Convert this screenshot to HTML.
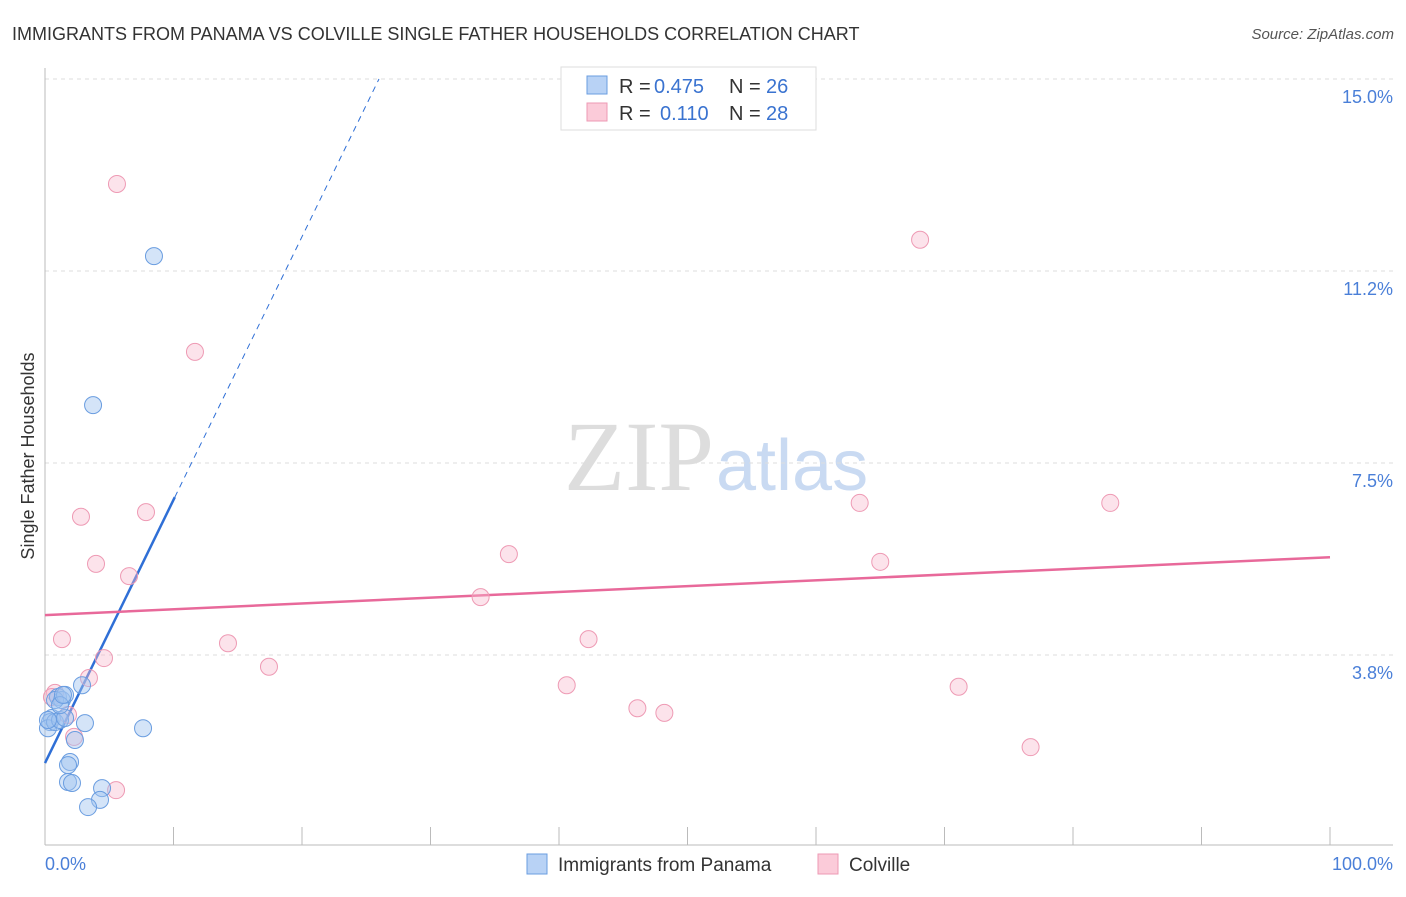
<!DOCTYPE html>
<html><head><meta charset="utf-8"><style>
body{margin:0;background:#fff;font-family:"Liberation Sans",sans-serif}
</style></head><body>
<svg width="1406" height="892" xmlns="http://www.w3.org/2000/svg" style="font-family:'Liberation Sans',sans-serif">
<text x="12" y="40" font-size="18" fill="#333">IMMIGRANTS FROM PANAMA VS COLVILLE SINGLE FATHER HOUSEHOLDS CORRELATION CHART</text>
<text x="1394" y="39" font-size="15" fill="#555" font-style="italic" text-anchor="end">Source: ZipAtlas.com</text>
<text x="714" y="490" font-size="100" fill="#ddd" text-anchor="end" font-family="Liberation Serif">ZIP</text>
<text x="716" y="490" font-size="72" fill="#c9daf2">atlas</text>
<g id="grid"></g>
<line x1="45" y1="68" x2="45" y2="845" stroke="#bbb"/>
<line x1="45" y1="845" x2="1393" y2="845" stroke="#bbb"/>
<g id="xt"></g>
<text x="45" y="870" font-size="18" fill="#4a7fd8">0.0%</text>
<text x="1393" y="870" font-size="18" fill="#4a7fd8" text-anchor="end">100.0%</text>
<text transform="translate(34,456) rotate(-90)" font-size="18" fill="#333" text-anchor="middle">Single Father Households</text>
<g id="lines"></g>
<g id="pts"></g>
<g font-size="20">
<rect x="561" y="67" width="255" height="63" fill="#fff" stroke="#ddd"/>
<rect x="587" y="76" width="20" height="18" fill="#b8d2f5" stroke="#6a9de0"/>
<text x="619" y="93" fill="#333">R =</text>
<text x="654" y="93" fill="#3a73d0">0.475</text>
<text x="729" y="93" fill="#333">N =</text>
<text x="766" y="93" fill="#3a73d0">26</text>
<rect x="587" y="103" width="20" height="18" fill="#fbcbd9" stroke="#ee9ab4"/>
<text x="619" y="120" fill="#333">R =</text>
<text x="660" y="120" fill="#3a73d0">0.110</text>
<text x="729" y="120" fill="#333">N =</text>
<text x="766" y="120" fill="#3a73d0">28</text>
</g>
<g>
<rect x="527" y="854" width="20" height="20" fill="#b8d2f5" stroke="#6a9de0"/>
<text x="558" y="871" font-size="19" fill="#333">Immigrants from Panama</text>
<rect x="818" y="854" width="20" height="20" fill="#fbcbd9" stroke="#ee9ab4"/>
<text x="849" y="871" font-size="19" fill="#333">Colville</text>
</g>
</svg>
<script>
const yTicks=[3.75,7.5,11.25,15];
const yTickLabels=["3.8%","7.5%","11.2%","15.0%"];
const xTicks=[0,10,20,30,40,50,60,70,80,90,100];
const blueX=[8.48,3.74,2.88,7.63,3.11,2.33,1.01,1.32,0.78,1.56,0.54,0.39,0.23,0.78,1.17,1.56,1.95,1.79,1.79,2.10,4.44,4.28,3.35,0.23,1.17,1.40];
const blueY=[11.54,8.63,3.16,2.32,2.42,2.09,2.93,2.87,2.87,2.97,2.52,2.44,2.32,2.44,2.48,2.52,1.66,1.60,1.27,1.25,1.15,0.92,0.78,2.48,2.77,2.97];
const pinkX=[5.60,68.1,11.67,63.4,82.9,2.80,7.86,36.1,3.97,65.0,6.54,33.9,1.32,14.24,42.3,4.59,17.43,3.42,40.6,71.1,46.1,48.2,76.7,5.53,0.78,1.79,2.26,0.54];
const pinkY=[12.95,11.86,9.67,6.72,6.72,6.45,6.54,5.72,5.53,5.57,5.29,4.88,4.06,3.98,4.06,3.69,3.52,3.30,3.16,3.13,2.71,2.62,1.95,1.11,3.01,2.58,2.15,2.93];
const blueTrend=[1.64,0.514];
const pinkTrend=[4.53,0.0113];
const X=v=>45+v*12.85, Y=v=>847-v*51.2;
const NS="http://www.w3.org/2000/svg";
function mk(p,t,a){const e=document.createElementNS(NS,t);for(const k in a)e.setAttribute(k,a[k]);document.getElementById(p).appendChild(e);return e;}
yTicks.forEach((t,i)=>{
 const l=mk('grid','line',{x1:45,x2:1393,y1:Y(t),y2:Y(t),stroke:'#ddd','stroke-dasharray':'4,4'});
 
 
 const tx=mk('grid','text',{x:1393,y:Y(t)+24,'font-size':18,fill:'#4a7fd8','text-anchor':'end'});
 tx.textContent=yTickLabels[i];
 
 
});
xTicks.forEach(t=>{
 const l=mk('xt','line',{x1:X(t),x2:X(t),y1:827,y2:845,stroke:'#bbb'});
 
 
});
let b0=blueTrend[0],b1=blueTrend[1];
let l1=mk('lines','line',{x1:X(0),y1:Y(b0),x2:X(10.1),y2:Y(b0+b1*10.1),stroke:'#2f6fd6','stroke-width':2.5});


let xe=(15-b0)/b1;
let l2=mk('lines','line',{x1:X(10.1),y1:Y(b0+b1*10.1),x2:X(xe),y2:Y(15),stroke:'#2f6fd6','stroke-width':1,'stroke-dasharray':'6,5'});


let l3=mk('lines','line',{x1:X(0),y1:Y(pinkTrend[0]),x2:X(100),y2:Y(pinkTrend[0]+pinkTrend[1]*100),stroke:'#e8699a','stroke-width':2.5});


pinkX.forEach((v,i)=>{
 const c=mk('pts','circle',{cx:X(v),cy:Y(pinkY[i]),r:8.5,fill:'rgba(248,186,204,0.4)',stroke:'#ee9ab4','stroke-width':1});
 
 
});
blueX.forEach((v,i)=>{
 const c=mk('pts','circle',{cx:X(v),cy:Y(blueY[i]),r:8.5,fill:'rgba(160,196,240,0.45)',stroke:'#6a9de0','stroke-width':1});
 
 
});
</script>
</body></html>
